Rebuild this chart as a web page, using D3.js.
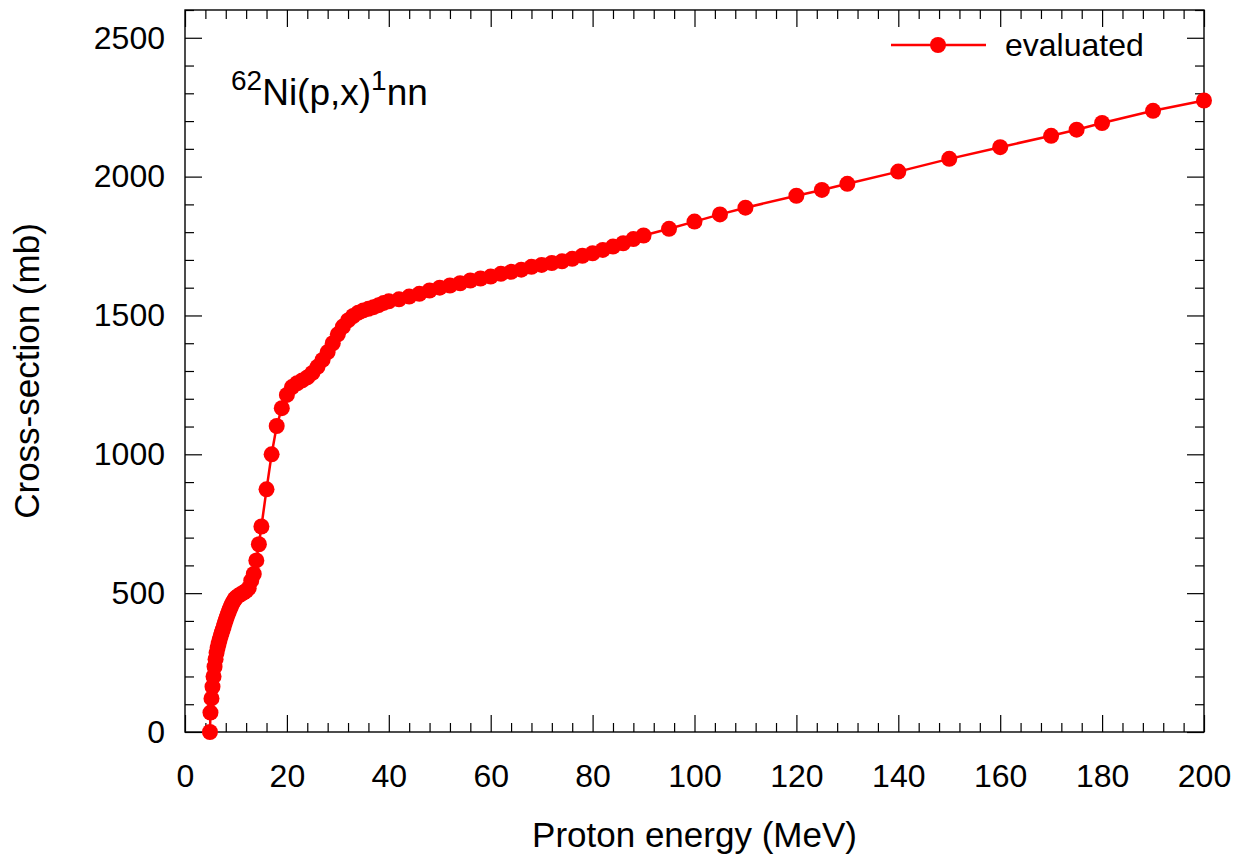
<!DOCTYPE html>
<html>
<head>
<meta charset="utf-8">
<script src="https://cdn.jsdelivr.net/npm/d3@7/dist/d3.min.js"></script>
<style>
  html, body { margin: 0; padding: 0; background: #fff; }
  svg { display: block; }
  text { font-family: "Liberation Sans", Arial, sans-serif; fill: #000; }
</style>
</head>
<body>
<svg id="chart" width="1252" height="867"></svg>
<script>
// ---- data ----
const energy = [
  4.9, 5.0, 5.2, 5.4, 5.6, 5.8, 6.0, 6.2, 6.4, 6.6, 6.8, 7.0, 7.2, 7.4, 7.6, 7.8,
  8.0, 8.2, 8.4, 8.6, 8.8, 9.0, 9.2, 9.4, 9.6, 9.8, 10.0,
  10.5, 11.0, 11.5, 12.0, 12.5, 13.0, 13.5, 14.0, 14.5, 15.0,
  16, 17, 18, 19, 20, 21, 22, 23, 24, 25, 26, 27, 28, 29, 30,
  31, 32, 33, 34, 35, 36, 37, 38, 39, 40,
  42, 44, 46, 48, 50, 52, 54, 56, 58, 60, 62, 64, 66, 68, 70,
  72, 74, 76, 78, 80, 82, 84, 86, 88, 90,
  95, 100, 105, 110, 120, 125, 130, 140, 150, 160, 170, 175, 180, 190, 200
];
const crossSection = [
  0, 70, 121, 163, 200, 235, 262, 285, 303, 318, 332, 345, 357, 368, 380, 392,
  403, 414, 424, 434, 443, 452, 460, 467, 473, 479, 484,
  491, 497, 502, 508, 518, 545, 569, 618, 676, 740,
  874, 1000, 1102, 1166, 1214, 1242, 1256, 1266, 1277, 1293, 1315, 1340, 1368, 1400, 1432,
  1460, 1482, 1498, 1510, 1518, 1524, 1530, 1537, 1545, 1551,
  1558, 1568, 1578, 1590, 1600, 1608, 1616, 1626, 1633, 1640, 1650, 1657, 1665, 1675, 1682,
  1689, 1695, 1704, 1715, 1724, 1736, 1748, 1760, 1775, 1788,
  1812, 1838, 1864, 1888, 1931, 1952, 1974, 2018, 2064, 2106, 2147, 2169, 2193, 2237, 2274
];
const xMajorTicks = [0, 20, 40, 60, 80, 100, 120, 140, 160, 180, 200];
const yMajorTicks = [0, 500, 1000, 1500, 2000, 2500];
const seriesName = "evaluated";
const xTitle = "Proton energy (MeV)";
const yTitle = "Cross-section (mb)";

// ---- layout ----
const L = 185, R = 1204, T = 10, B = 732;
const svg = d3.select("#chart");
const x = d3.scaleLinear().domain([0, 200]).range([L, R]);
const y = d3.scaleLinear().domain([0, 2600]).range([B, T]);

const xMinor = d3.range(0, 200.001, 4).filter(v => v % 20 !== 0);
const yMinor = d3.range(0, 2600.001, 100).filter(v => v % 500 !== 0);

function styleAxis(g) {
  g.select(".domain").remove();
  g.selectAll(".tick line").attr("stroke", "#000").attr("stroke-width", 1.2);
}

// bottom
svg.append("g").attr("transform", `translate(0,${B})`)
  .call(d3.axisBottom(x).tickValues(xMajorTicks).tickSize(-17).tickPadding(32).tickFormat(d3.format("d")))
  .call(styleAxis)
  .call(g => g.selectAll("text").attr("font-size", 32).attr("font-family", "Liberation Sans, Arial, sans-serif"));
svg.append("g").attr("transform", `translate(0,${B})`)
  .call(d3.axisBottom(x).tickValues(xMinor).tickSize(-9).tickFormat(""))
  .call(styleAxis);
// top
svg.append("g").attr("transform", `translate(0,${T})`)
  .call(d3.axisTop(x).tickValues(xMajorTicks).tickSize(-17).tickFormat(""))
  .call(styleAxis);
svg.append("g").attr("transform", `translate(0,${T})`)
  .call(d3.axisTop(x).tickValues(xMinor).tickSize(-9).tickFormat(""))
  .call(styleAxis);
// left
svg.append("g").attr("transform", `translate(${L},0)`)
  .call(d3.axisLeft(y).tickValues(yMajorTicks).tickSize(-17).tickPadding(20).tickFormat(d3.format("d")))
  .call(styleAxis)
  .call(g => g.selectAll("text").attr("font-size", 32).attr("font-family", "Liberation Sans, Arial, sans-serif"));
svg.append("g").attr("transform", `translate(${L},0)`)
  .call(d3.axisLeft(y).tickValues(yMinor).tickSize(-9).tickFormat(""))
  .call(styleAxis);
// right
svg.append("g").attr("transform", `translate(${R},0)`)
  .call(d3.axisRight(y).tickValues(yMajorTicks).tickSize(-17).tickFormat(""))
  .call(styleAxis);
svg.append("g").attr("transform", `translate(${R},0)`)
  .call(d3.axisRight(y).tickValues(yMinor).tickSize(-9).tickFormat(""))
  .call(styleAxis);

// frame
svg.append("rect").attr("x", L).attr("y", T).attr("width", R - L).attr("height", B - T)
  .attr("fill", "none").attr("stroke", "#000").attr("stroke-width", 1.4);

// series
const data = energy.map((e, i) => ({ e, v: crossSection[i] }));
const line = d3.line().x(d => x(d.e)).y(d => y(d.v));
svg.append("path").datum(data).attr("d", line)
  .attr("fill", "none").attr("stroke", "#ff0000").attr("stroke-width", 2.5);
svg.append("g").selectAll("circle").data(data).join("circle")
  .attr("cx", d => x(d.e)).attr("cy", d => y(d.v)).attr("r", 8).attr("fill", "#ff0000");

// axis titles
svg.append("text").attr("x", (L + R) / 2).attr("y", 847).attr("text-anchor", "middle")
  .attr("font-size", 35).text(xTitle);
svg.append("text").attr("transform", `translate(39,${(T + B) / 2}) rotate(-90)`)
  .attr("text-anchor", "middle").attr("font-size", 35).text(yTitle);

// reaction label
const lab = svg.append("text").attr("x", 231).attr("y", 105).attr("font-size", 37);
lab.append("tspan").attr("font-size", 28).attr("dy", -15).text("62");
lab.append("tspan").attr("dy", 15).text("Ni(p,x)");
lab.append("tspan").attr("font-size", 28).attr("dy", -15).text("1");
lab.append("tspan").attr("dy", 15).text("nn");

// legend
svg.append("line").attr("x1", 891).attr("x2", 986).attr("y1", 45).attr("y2", 45)
  .attr("stroke", "#ff0000").attr("stroke-width", 2.5);
svg.append("circle").attr("cx", 938).attr("cy", 45).attr("r", 8).attr("fill", "#ff0000");
svg.append("text").attr("x", 1005).attr("y", 56).attr("font-size", 32).text(seriesName);
</script>
</body>
</html>
